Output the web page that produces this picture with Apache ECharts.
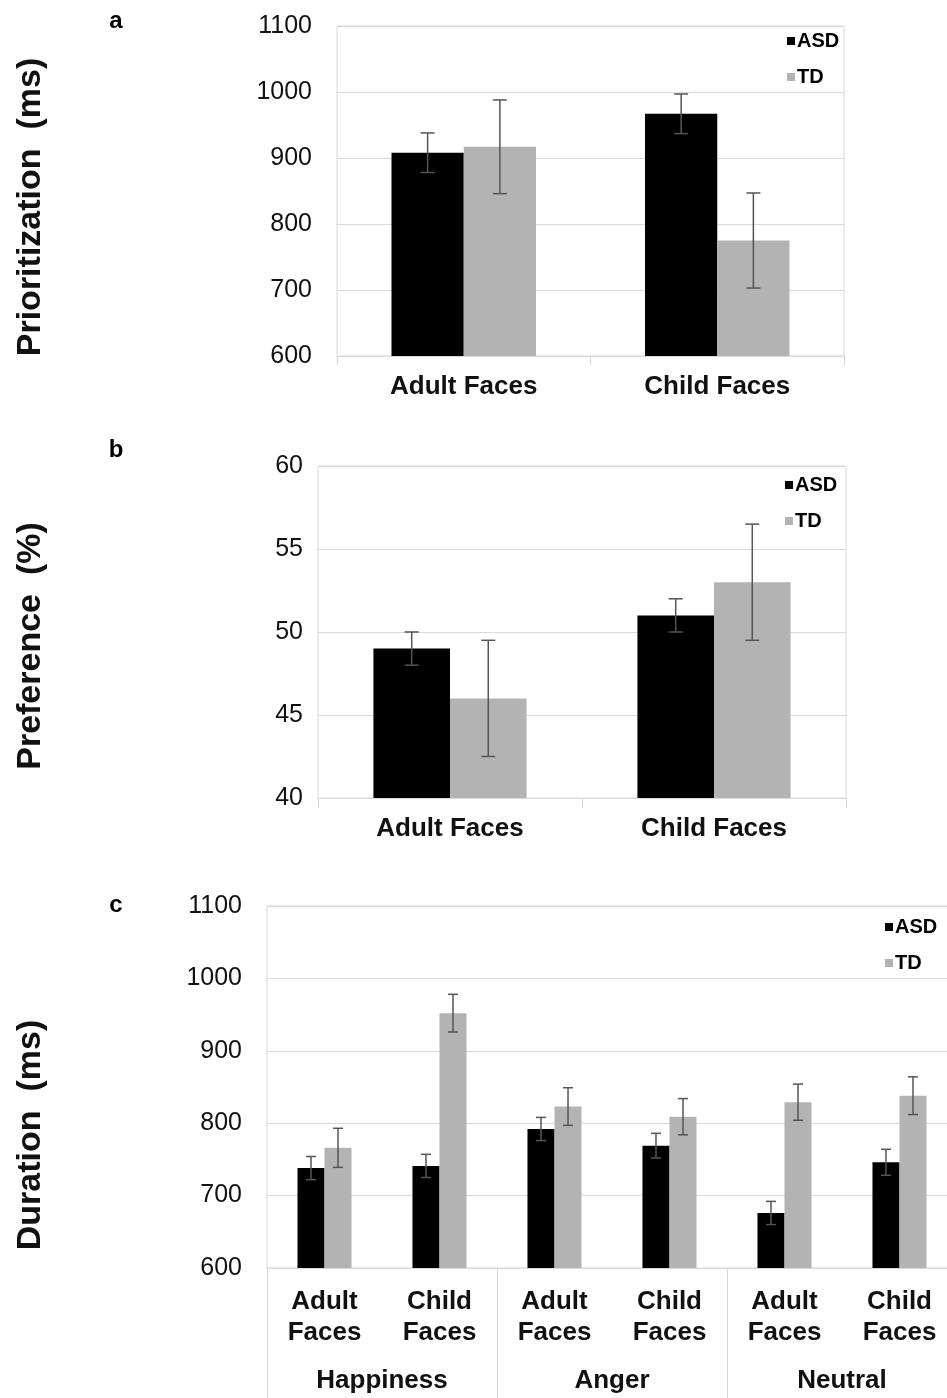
<!DOCTYPE html>
<html>
<head>
<meta charset="utf-8">
<script src="https://cdn.jsdelivr.net/npm/echarts@6/dist/echarts.min.js"></script>
<style>
html,body{margin:0;padding:0;background:#fff;overflow:hidden;}
#chart{width:957px;height:1398px;}
</style>
</head>
<body>
<div id="chart"></div>
<script>
// ---- data ----
const faceCategories = ['Adult Faces', 'Child Faces'];
const prioASD = [908, 967];
const prioASDErr = [30, 30];
const prioTD = [917, 775];
const prioTDErr = [71, 72];

const prefASD = [49, 51];
const prefASDErr = [1, 1];
const prefTD = [46, 53];
const prefTDErr = [3.5, 3.5];

const durCategories = ['Adult\nFaces', 'Child\nFaces', 'Adult\nFaces', 'Child\nFaces', 'Adult\nFaces', 'Child\nFaces'];
const durGroups = ['Happiness', 'Anger', 'Neutral'];
const durASD = [738, 741, 792, 769, 676, 746];
const durASDErr = [16, 16, 16, 17, 16, 18];
const durTD = [766, 952, 823, 809, 829, 838];
const durTDErr = [27, 26, 26, 25, 25, 26];

const seriesNames = ['ASD', 'TD'];
const yTitles = ['Prioritization  (ms)', 'Preference  (%)', 'Duration  (ms)'];
const panelLetters = ['a', 'b', 'c'];

// ---- styling ----
const FONT = 'Liberation Sans, Arial, sans-serif';
const GRID_COLOR = '#d9d9d9';
const ASD_COLOR = '#000000';
const TD_COLOR = '#b3b3b3';
const ERR_COLOR = '#555555';

const gaps = [0.43, 0.42, 0.53];
const capHalf = [7, 7, 5];

function errSeries(name, gridIdx, values, errs, side) {
  const gap = gaps[gridIdx];
  return {
    type: 'custom',
    name: name + ' err',
    xAxisIndex: gridIdx === 2 ? 2 : gridIdx,
    yAxisIndex: gridIdx,
    z: 10,
    silent: true,
    data: values.map((v, i) => [i, v, errs[i]]),
    renderItem: function (params, api) {
      const idx = api.value(0);
      const v = api.value(1);
      const e = api.value(2);
      const band = api.size([1, 0])[0];
      const bw = band * (1 - gap) / 2;
      const off = side * bw / 2;
      const top = api.coord([idx, v + e]);
      const bot = api.coord([idx, v - e]);
      const cx = top[0] + off;
      const h = capHalf[gridIdx];
      const st = { stroke: ERR_COLOR, lineWidth: 1.5 };
      return {
        type: 'group',
        children: [
          { type: 'line', shape: { x1: cx, y1: top[1], x2: cx, y2: bot[1] }, style: st },
          { type: 'line', shape: { x1: cx - h, y1: top[1], x2: cx + h, y2: top[1] }, style: st },
          { type: 'line', shape: { x1: cx - h, y1: bot[1], x2: cx + h, y2: bot[1] }, style: st }
        ]
      };
    }
  };
}

function barSeries(name, gridIdx, values, color) {
  return {
    type: 'bar',
    name: name,
    xAxisIndex: gridIdx === 2 ? 2 : gridIdx,
    yAxisIndex: gridIdx,
    data: values,
    barGap: '0%',
    barCategoryGap: (gaps[gridIdx] * 100) + '%',
    itemStyle: { color: color },
    silent: true
  };
}

const yLabel = { color: '#111', fontFamily: FONT, fontSize: 25, formatter: function (v) { return String(v); } };

function valueAxis(gridIdx, min, max, interval, margin) {
  return {
    type: 'value', gridIndex: gridIdx, min: min, max: max, interval: interval,
    axisLine: { show: false }, axisTick: { show: false },
    splitLine: { lineStyle: { color: GRID_COLOR, width: 1 } },
    axisLabel: Object.assign({ margin: margin }, yLabel)
  };
}

function legendAt(top, left) {
  return {
    data: seriesNames, orient: 'vertical', top: top, left: left, padding: 0,
    itemWidth: 8, itemHeight: 8, itemGap: 16, icon: 'rect', align: 'left',
    selectedMode: false,
    textStyle: { fontFamily: FONT, fontWeight: 'bold', fontSize: 20, color: '#000', padding: [0, 0, 0, -3] }
  };
}

const catLabel = { color: '#111', fontFamily: FONT, fontWeight: 'bold', fontSize: 26 };

const option = {
  animation: false,
  backgroundColor: '#fff',
  grid: [
    { left: 337, width: 507, top: 26, height: 330, show: true, borderColor: GRID_COLOR, borderWidth: 1, containLabel: false },
    { left: 318, width: 528, top: 466, height: 332, show: true, borderColor: GRID_COLOR, borderWidth: 1, containLabel: false },
    { left: 267, width: 690, top: 906, height: 362, show: true, borderColor: GRID_COLOR, borderWidth: 1, containLabel: false }
  ],
  legend: [legendAt(31, 787), legendAt(475, 785), legendAt(917, 885)],
  xAxis: [
    {
      type: 'category', gridIndex: 0, data: faceCategories,
      axisLine: { lineStyle: { color: GRID_COLOR } },
      axisTick: { show: true, length: 10, lineStyle: { color: GRID_COLOR } },
      axisLabel: Object.assign({ margin: 18 }, catLabel)
    },
    {
      type: 'category', gridIndex: 1, data: faceCategories,
      axisLine: { lineStyle: { color: GRID_COLOR } },
      axisTick: { show: true, length: 10, lineStyle: { color: GRID_COLOR } },
      axisLabel: Object.assign({ margin: 18 }, catLabel)
    },
    {
      type: 'category', gridIndex: 2, data: durCategories,
      axisLine: { lineStyle: { color: GRID_COLOR } },
      axisTick: { show: false },
      axisLabel: Object.assign({ margin: 18, lineHeight: 31, interval: 0 }, catLabel)
    },
    {
      type: 'category', gridIndex: 2, data: durGroups, position: 'bottom',
      axisLine: { show: true, lineStyle: { color: GRID_COLOR } },
      axisTick: { show: true, length: 135, lineStyle: { color: GRID_COLOR } },
      axisLabel: Object.assign({ margin: 100, interval: 0 }, catLabel)
    }
  ],
  yAxis: [
    valueAxis(0, 600, 1100, 100, 25),
    valueAxis(1, 40, 60, 5, 15),
    valueAxis(2, 600, 1100, 100, 25)
  ],
  graphic: [
    { type: 'text', x: 31, y: 207, rotation: Math.PI / 2, style: { text: yTitles[0], font: 'bold 34px ' + FONT, fill: '#111', align: 'center', verticalAlign: 'middle' } },
    { type: 'text', x: 31, y: 646, rotation: Math.PI / 2, style: { text: yTitles[1], font: 'bold 34px ' + FONT, fill: '#111', align: 'center', verticalAlign: 'middle' } },
    { type: 'text', x: 31, y: 1135, rotation: Math.PI / 2, style: { text: yTitles[2], font: 'bold 34px ' + FONT, fill: '#111', align: 'center', verticalAlign: 'middle' } },
    { type: 'text', x: 116, y: 21, style: { text: panelLetters[0], font: 'bold 24px ' + FONT, fill: '#000', align: 'center', verticalAlign: 'middle' } },
    { type: 'text', x: 116, y: 450, style: { text: panelLetters[1], font: 'bold 24px ' + FONT, fill: '#000', align: 'center', verticalAlign: 'middle' } },
    { type: 'text', x: 116, y: 905, style: { text: panelLetters[2], font: 'bold 24px ' + FONT, fill: '#000', align: 'center', verticalAlign: 'middle' } }
  ],
  series: [
    barSeries('ASD', 0, prioASD, ASD_COLOR),
    barSeries('TD', 0, prioTD, TD_COLOR),
    errSeries('ASD', 0, prioASD, prioASDErr, -1),
    errSeries('TD', 0, prioTD, prioTDErr, 1),
    barSeries('ASD', 1, prefASD, ASD_COLOR),
    barSeries('TD', 1, prefTD, TD_COLOR),
    errSeries('ASD', 1, prefASD, prefASDErr, -1),
    errSeries('TD', 1, prefTD, prefTDErr, 1),
    barSeries('ASD', 2, durASD, ASD_COLOR),
    barSeries('TD', 2, durTD, TD_COLOR),
    errSeries('ASD', 2, durASD, durASDErr, -1),
    errSeries('TD', 2, durTD, durTDErr, 1)
  ]
};

const chart = echarts.init(document.getElementById('chart'), null, { renderer: 'canvas' });
chart.setOption(option);
</script>
</body>
</html>
